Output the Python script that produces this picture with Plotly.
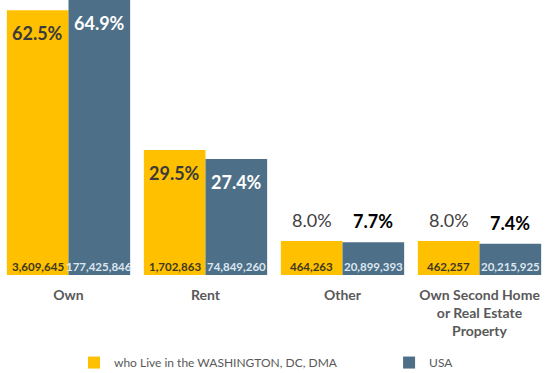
import plotly.graph_objects as go

# Home ownership: Washington DC DMA vs. USA
categories = ["Own", "Rent", "Other", "Own Second Home<br>or Real Estate<br>Property"]
dc_pct = [62.5, 29.5, 8.0, 8.0]
usa_pct = [64.9, 27.4, 7.7, 7.4]
dc_count = [3609645, 1702863, 464263, 462257]
usa_count = [177425846, 74849260, 20899393, 20215925]

dc_name = "who Live in the WASHINGTON, DC, DMA"
usa_name = "USA"

YELLOW = "#FFC000"
BLUE = "#4D6F87"
FONT = "Lato"

x_idx = list(range(len(categories)))
half = 0.225  # bar offset from category centre (bargap 0.1, two bars)

fig = go.Figure()
fig.add_trace(go.Bar(x=x_idx, y=dc_pct, name=dc_name, marker_color=YELLOW,
                     marker_line_width=0, hoverinfo="skip", legend="legend",
                     showlegend=True))
fig.add_trace(go.Bar(x=x_idx, y=usa_pct, name=usa_name, marker_color=BLUE,
                     marker_line_width=0, hoverinfo="skip", legend="legend2",
                     showlegend=True))

annotations = []
for i in x_idx:
    big = dc_pct[i] > 20
    # percentage labels: inside the top for tall bars, above for short ones
    for off, val, inside_col, out_col, out_bold in (
        (-half, dc_pct[i], "#3A3A3A", "#404040", False),
        (half, usa_pct[i], "#FFFFFF", "#000000", True),
    ):
        if big:
            annotations.append(dict(
                x=i + off, y=val, xref="x", yref="y", text=f"<b>{val:.1f}%</b>",
                showarrow=False, yanchor="top", yshift=-10,
                font=dict(family=FONT, size=18, color=inside_col)))
        else:
            txt = f"<b>{val:.1f}%</b>" if out_bold else f"{val:.1f}%"
            annotations.append(dict(
                x=i + off, y=val, xref="x", yref="y", text=txt,
                showarrow=False, yanchor="bottom", yshift=8,
                font=dict(family=FONT, size=18, color=out_col)))
    # counts along the bottom of each bar
    annotations.append(dict(
        x=i - half, y=0, xref="x", yref="y", text=f"<b>{dc_count[i]:,}</b>",
        showarrow=False, yanchor="bottom", yshift=0,
        font=dict(family=FONT, size=11.5, color="#40381E")))
    annotations.append(dict(
        x=i + half, y=0, xref="x", yref="y", text=f"<b>{usa_count[i]:,}</b>",
        showarrow=False, yanchor="bottom", yshift=0,
        font=dict(family=FONT, size=11.5, color="#DCE6F0")))

legend_style = dict(orientation="h", xanchor="left", yref="container",
                    y=0.028, yanchor="middle", bgcolor="rgba(0,0,0,0)",
                    font=dict(family=FONT, size=12, color="#595959"))

fig.update_layout(
    width=550, height=373,
    margin=dict(l=0, r=2, t=0, b=98),
    plot_bgcolor="white", paper_bgcolor="white",
    showlegend=True,
    barmode="group", bargap=0.1, bargroupgap=0,
    xaxis=dict(tickvals=x_idx, ticktext=[f"<b>{c}</b>" for c in categories],
               range=[-0.5, len(categories) - 0.5], showgrid=False,
               showline=False, zeroline=False, ticks="", ticklabelstandoff=10,
               automargin=False,
               tickfont=dict(family=FONT, size=14, color="#595959")),
    yaxis=dict(range=[0, 64.9], visible=False, showgrid=False, zeroline=False),
    legend=dict(x=0.135, **legend_style),
    legend2=dict(x=0.71, **legend_style),
    annotations=annotations,
)

fig.write_html("out.html")
